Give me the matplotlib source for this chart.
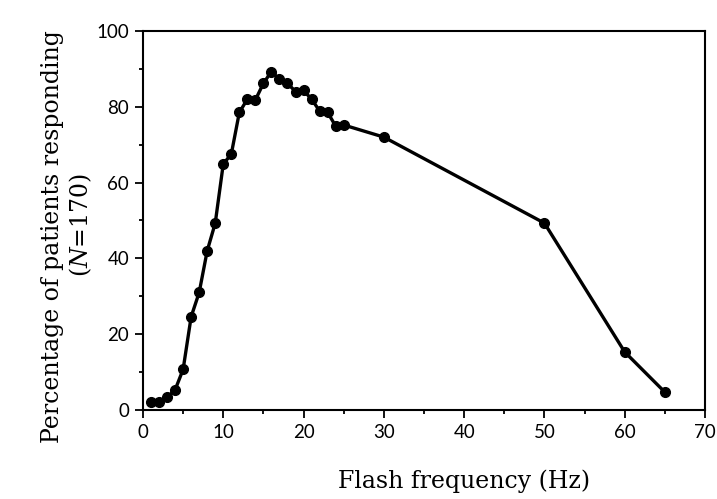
import matplotlib
matplotlib.use("Agg")
import matplotlib.pyplot as plt
from matplotlib.ticker import MultipleLocator

# flash frequency (Hz) and % of patients responding
freq = [1, 2, 3, 4, 5, 6, 7, 8, 9, 10, 11, 12, 13, 14, 15, 16, 17, 18, 19, 20,
        21, 22, 23, 24, 25, 30, 50, 60, 65]
pct = [2.2, 2.2, 3.3, 5.3, 10.7, 24.6, 31.0, 42.0, 49.3, 64.9, 67.5, 78.5, 82.0,
       81.8, 86.2, 89.3, 87.2, 86.2, 84.0, 84.3, 82.0, 78.9, 78.5, 74.9, 75.2,
       72.0, 49.3, 15.3, 4.7]

xticks = [0, 10, 20, 30, 40, 50, 60, 70]
yticks = [0, 20, 40, 60, 80, 100]

tick_font = "Lato"
label_font = "DejaVu Serif"
plt.rcParams["mathtext.fontset"] = "dejavuserif"

fig = plt.figure(figsize=(7.17, 4.99), dpi=100)
ax = fig.add_axes([0.1994, 0.1784, 0.7839, 0.7595])

ax.plot(freq, pct, color="black", linewidth=2.4, marker="o", markersize=7,
        markerfacecolor="black", markeredgecolor="black", clip_on=False)

ax.set_xlim(0, 70)
ax.set_ylim(0, 100)
ax.set_xticks(xticks)
ax.set_yticks(yticks)
ax.xaxis.set_minor_locator(MultipleLocator(5))
ax.yaxis.set_minor_locator(MultipleLocator(10))
ax.tick_params(which="major", direction="out", length=6, width=1.3,
               labelsize=13.5, pad=4, top=False, right=False)
ax.tick_params(which="minor", direction="out", length=3, width=1.3,
               top=False, right=False)
for lab in ax.get_xticklabels() + ax.get_yticklabels():
    lab.set_family(tick_font)

for sp in ax.spines.values():
    sp.set_linewidth(1.5)

ax.set_xlabel("Flash frequency (Hz)", fontsize=17, family=label_font)
ax.xaxis.set_label_coords(0.571, -0.206)
ax.xaxis.label.set_verticalalignment("baseline")

fig.text(0.073, 0.525, "Percentage of patients responding", rotation=90,
         fontsize=17, family=label_font, ha="center", va="center")
fig.text(0.112, 0.549, "($N$=170)", rotation=90, fontsize=17,
         family=label_font, ha="center", va="center")

fig.savefig("out.png", dpi=100)
